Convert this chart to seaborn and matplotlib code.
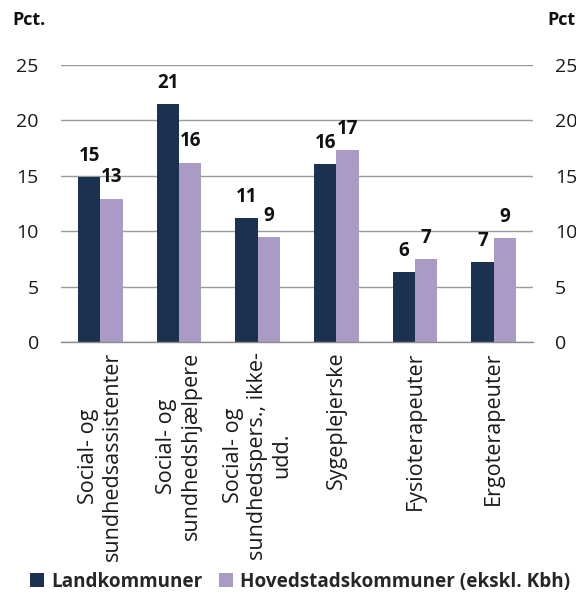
import matplotlib
matplotlib.use("Agg")
import matplotlib.pyplot as plt
import seaborn as sns
import pandas as pd
import numpy as np
from matplotlib.patches import Patch

categories = ["Social- og\nsundhedsassistenter", "Social- og\nsundhedshjælpere",
              "Social- og\nsundhedspers., ikke-\nudd.", "Sygeplejerske",
              "Fysioterapeuter", "Ergoterapeuter"]
series_names = ["Landkommuner", "Hovedstadskommuner (ekskl. Kbh)"]
land = [14.9, 21.45, 11.2, 16.1, 6.35, 7.2]
hoved = [12.95, 16.2, 9.45, 17.35, 7.45, 9.4]
yticks = [0, 5, 10, 15, 20, 25]
colors = ["#1a3250", "#aa9bc6"]

df = pd.DataFrame({
    "cat": categories * 2,
    "serie": [series_names[0]] * 6 + [series_names[1]] * 6,
    "val": land + hoved,
})

sns.set_theme(style="white")
plt.rcParams["font.family"] = ["Open Sans", "DejaVu Sans"]

fig = plt.figure(figsize=(5.76, 5.94), dpi=100)
ax = fig.add_axes([61/576, 1-342/594, (533-61)/576, (342-65)/594])

sns.barplot(data=df, x="cat", y="val", hue="serie", order=categories,
            hue_order=series_names, palette=colors, width=0.57, gap=0,
            saturation=1, ax=ax, legend=False, edgecolor="none")

ax.set_ylim(0, 25)
ax.set_xlim(-0.5, 5.5)
ax.set_yticks(yticks)
ax.set_yticklabels([str(t) for t in yticks], fontsize=14, color="#1a1a1a")
ax.yaxis.grid(True, color="#9a9a9a", linewidth=1)
ax.set_axisbelow(True)
for s in ["left", "right", "top"]:
    ax.spines[s].set_visible(False)
ax.spines["bottom"].set_color("#8c8c8c")
ax.spines["bottom"].set_linewidth(1)
ax.tick_params(axis="y", length=0, pad=16)
ax.set_xlabel("")
ax.set_ylabel("")

ax.set_xticks(range(len(categories)))
ax.set_xticklabels(categories, rotation=90, fontsize=15.5, color="#1a1a1a",
                   ha="center", va="top", multialignment="center")
ax.tick_params(axis="x", which="major", length=0, pad=7)
ax.set_xticks(np.arange(-0.5, 6, 1), minor=True)
ax.tick_params(axis="x", which="minor", length=6, color="#8c8c8c", width=1, direction="out")

for cont in ax.containers:
    for bar in cont:
        h = bar.get_height()
        ax.annotate(f"{h:.0f}", (bar.get_x() + bar.get_width()/2, h),
                    xytext=(0, 8), textcoords="offset points",
                    ha="center", va="bottom", fontsize=13.5, fontweight="bold",
                    color="#111111")

ax2 = ax.twinx()
ax2.set_ylim(0, 25)
ax2.set_yticks(yticks)
ax2.set_yticklabels([str(t) for t in yticks], fontsize=14, color="#1a1a1a")
ax2.tick_params(axis="y", length=0, pad=16)
for s in ax2.spines.values():
    s.set_visible(False)
ax2.grid(False)

fig.text(12/576, 1-20/594, "Pct.", fontsize=13, fontweight="bold", va="center", ha="left", color="#111111")
fig.text(547/576, 1-20/594, "Pct.", fontsize=13, fontweight="bold", va="center", ha="left", color="#111111")

handles = [Patch(facecolor=c, edgecolor="none") for c in colors]
fig.legend(handles, series_names, loc="center left", bbox_to_anchor=(30/576, 1-582/594),
           ncol=2, frameon=False, prop={"weight": "bold", "size": 13.6},
           handlelength=0.75, handleheight=0.75, handletextpad=0.35, columnspacing=0.9,
           borderpad=0, borderaxespad=0)

fig.savefig("out.png", dpi=100)
